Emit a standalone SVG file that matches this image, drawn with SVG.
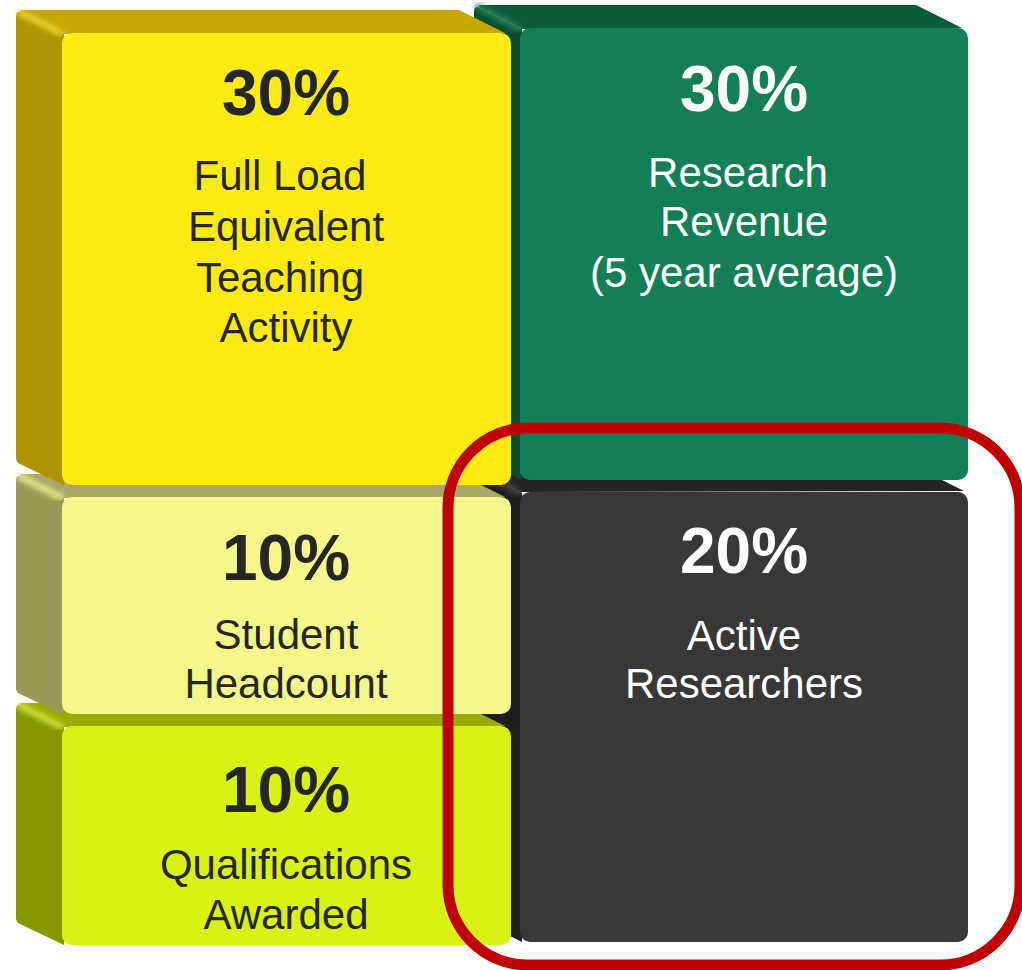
<svg xmlns="http://www.w3.org/2000/svg" width="1022" height="970" viewBox="0 0 1022 970">
<defs>
<filter id="blur" x="-20%" y="-20%" width="140%" height="140%"><feGaussianBlur stdDeviation="2.5"/></filter>
</defs>
<style>
.pct{font-family:"Liberation Sans",Arial,sans-serif;font-weight:bold;font-size:64px;text-anchor:middle}
.lbl{font-family:"Liberation Sans",Arial,sans-serif;font-size:42px;text-anchor:middle}
.dk{fill:#262626}
.wt{fill:#ffffff}
.hl{stroke-width:7;stroke-linecap:round;filter:url(#blur);opacity:0.8}
</style>
<rect width="1022" height="970" fill="#ffffff"/>

<g id="node-active-researchers">
<path d="M520,492 L474,469 L920,469 L964,491 Z" fill="#242424"/>
<path d="M522,493 L478,471 Q474,469 474,475 L474,914 Q474,918 478,920 L522,942 Z" fill="#1e1e1e"/>
<line x1="477" y1="471" x2="518" y2="492" stroke="#4a4a4a" class="hl"/>
<rect x="520" y="492" width="448" height="450" rx="10" fill="#383838"/>
<text class="pct wt" x="744" y="573">20%</text>
<text class="lbl wt" x="744" y="650">Active</text>
<text class="lbl wt" x="744" y="698">Researchers</text>
</g>

<g id="node-research-revenue">
<path d="M522,29 L480,8 Q476,5 482,5 L916,5 L962,28 Z" fill="#0c5a3a"/>
<path d="M522,29 L480,8 Q474,5 474,12 L474,452 Q474,456 478,458 L522,480 Z" fill="#0a4d31"/>
<line x1="478" y1="7" x2="518" y2="28" stroke="#2a8a62" class="hl"/>
<rect x="520" y="28" width="448" height="452" rx="10" fill="#147f56"/>
<text class="pct wt" x="744" y="111">30%</text>
<text class="lbl wt" x="738" y="187">Research</text>
<text class="lbl wt" x="744" y="236">Revenue</text>
<text class="lbl wt" x="744" y="287">(5 year average)</text>
</g>

<g id="node-qualifications-awarded">
<path d="M64,727 L22,706 Q16,703 24,703 L459,703 L505,726 Z" fill="#9aab00"/>
<path d="M64,727 L22,706 Q16,703 16,710 L16,918 Q16,922 20,924 L64,945 Z" fill="#859800"/>
<line x1="20" y1="706" x2="60" y2="726" stroke="#d6ec40" class="hl"/>
<rect x="62" y="726" width="449" height="219" rx="10" fill="#d8f213"/>
<text class="pct dk" x="286" y="812">10%</text>
<text class="lbl dk" x="286" y="879">Qualifications</text>
<text class="lbl dk" x="286" y="929">Awarded</text>
</g>

<g id="node-student-headcount">
<path d="M64,498 L22,477 Q16,474 24,474 L459,474 L505,497 Z" fill="#a9a866"/>
<path d="M64,498 L22,477 Q16,474 16,481 L16,688 Q16,692 20,694 L64,715 Z" fill="#999955"/>
<line x1="20" y1="477" x2="60" y2="497" stroke="#eef290" class="hl"/>
<rect x="62" y="497" width="449" height="217" rx="10" fill="#f5f78b"/>
<text class="pct dk" x="286" y="580">10%</text>
<text class="lbl dk" x="286" y="649">Student</text>
<text class="lbl dk" x="286" y="698">Headcount</text>
</g>

<g id="node-full-load">
<path d="M64,34 L22,13 Q16,10 24,10 L459,10 L505,33 Z" fill="#c8a600"/>
<path d="M64,34 L22,13 Q16,10 16,17 L16,458 Q16,462 20,464 L64,485 Z" fill="#b09300"/>
<line x1="20" y1="13" x2="60" y2="33" stroke="#f2d830" class="hl"/>
<rect x="62" y="33" width="449" height="452" rx="10" fill="#ffeb14"/>
<text class="pct dk" x="286" y="115">30%</text>
<text class="lbl dk" x="280" y="190">Full Load</text>
<text class="lbl dk" x="286" y="241">Equivalent</text>
<text class="lbl dk" x="280" y="292">Teaching</text>
<text class="lbl dk" x="286" y="342">Activity</text>
</g>

<g id="connectors">
<rect x="448" y="428" width="572" height="537" rx="80" fill="none" stroke="#c00000" stroke-width="11"/>
</g>
</svg>
